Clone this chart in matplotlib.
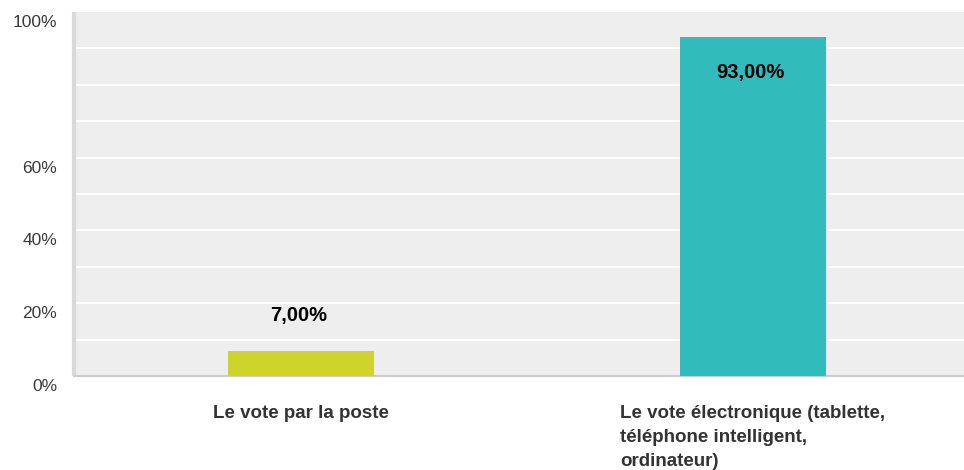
import matplotlib.pyplot as plt
import matplotlib.transforms as mtransforms

categories = ["Le vote par la poste",
              "Le vote électronique (tablette,\ntéléphone intelligent,\nordinateur)"]
values = [7.0, 93.0]
value_labels = ["7,00%", "93,00%"]
bar_colors = ["#D0D42A", "#32BBBD"]

ytick_values = [0, 10, 20, 30, 40, 50, 60, 70, 80, 90]
ytick_labels = ["0%", "", "20%", "", "40%", "", "60%", "", "", ""]

plt.rcParams["font.family"] = ["Liberation Sans", "DejaVu Sans"]

fig = plt.figure(figsize=(9.64, 4.70), dpi=100)
ax = fig.add_axes([74 / 964, 94 / 470, 890 / 964, 364 / 470])
ax.set_facecolor("#EEEEEE")

x = list(range(len(categories)))
ax.bar(x, values, width=0.323, color=bar_colors, zorder=3)

for xi, v, lab in zip(x, values, value_labels):
    dy = -25 if v > 50 else 25
    ax.annotate(lab, (xi, v), xytext=(-2, dy), textcoords="offset points",
                ha="center", va="center", fontsize=14.5, fontweight="bold",
                color="black", zorder=4)

ax.set_xlim(-0.502, 1.467)
ax.set_ylim(0, 100)

# 100% label sits at the top edge (no gridline there)
ax.set_yticks(ytick_values + [100])
ax.set_yticklabels(ytick_labels + ["100%"], fontsize=12.5, color="#3A3A3A")
ax.tick_params(axis="y", length=0, pad=12)
offset = mtransforms.ScaledTranslation(0, -9 / 100, fig.dpi_scale_trans)
for lbl in ax.get_yticklabels():
    lbl.set_transform(lbl.get_transform() + offset)
ax.get_ygridlines()[-1].set_visible(False)

ax.set_xticks(x)
ax.set_xticklabels(categories, fontsize=13.5, fontweight="bold", color="#333333",
                   linespacing=1.55)
for lbl in ax.get_xticklabels():
    lbl.set_multialignment("left")
ax.tick_params(axis="x", length=0, pad=21)

ax.grid(axis="y", color="white", linewidth=1.5, zorder=1)
ax.get_ygridlines()[-1].set_visible(False)
ax.set_axisbelow(True)

for side in ["top", "right"]:
    ax.spines[side].set_visible(False)
ax.spines["left"].set_color("#D9D9D9")
ax.spines["left"].set_linewidth(3)
ax.spines["left"].set_capstyle("butt")
ax.spines["bottom"].set_color("#CCCCCC")
ax.spines["bottom"].set_linewidth(1.5)

fig.savefig("out.png", dpi=100)
